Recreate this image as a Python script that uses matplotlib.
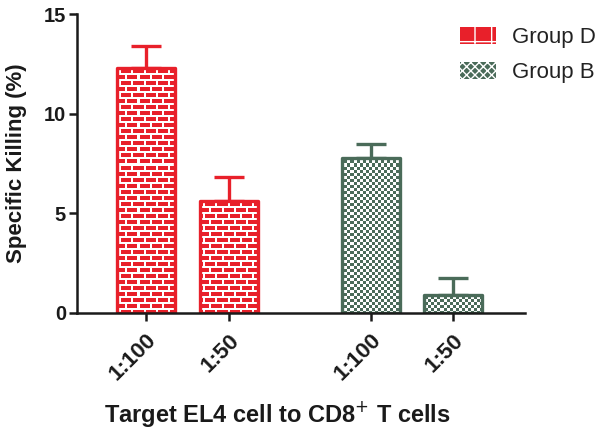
import numpy as np
import matplotlib.pyplot as plt
from matplotlib.colors import to_rgb
from matplotlib.patches import Patch

plt.rcParams['font.family'] = ['Liberation Sans', 'DejaVu Sans']

# data
groups = ['Group D', 'Group B']
ratios = ['1:100', '1:50']
means = [[12.3, 5.6], [7.8, 0.9]]
errs = [[1.1, 1.2], [0.7, 0.85]]
colors = ['#e8202a', '#4a6b59']
positions = [[0, 1], [2.71, 3.7]]

W, H = 609, 437
fig = plt.figure(figsize=(W / 100, H / 100), dpi=100)
ax = fig.add_axes([77 / W, 1 - 313 / H, 448 / W, 299 / H])
xlim = (-0.83, 4.57)
ylim = (0, 15)

# textures at axes pixel size
aw, ah = 448, 299
yy, xx = np.mgrid[0:ah, 0:aw]


def brick(col):
    row = yy // 6
    mortar_h = (yy % 6) < 2
    shift = np.where(row % 2 == 0, 0, 6)
    mortar_v = ((xx + shift) % 12) < 2
    mask = mortar_h | mortar_v
    img = np.ones((ah, aw, 3))
    img[~mask] = to_rgb(col)
    return img


def checker(col):
    mask = ((xx // 3) + (yy // 3)) % 2 == 0
    img = np.ones((ah, aw, 3))
    img[mask] = to_rgb(col)
    return img


textures = [brick(colors[0]), checker(colors[1])]

for g in range(2):
    bars = ax.bar(positions[g], means[g], width=0.7, facecolor='none',
                  edgecolor=colors[g], linewidth=2.4, zorder=2)
    for b in bars:
        b.set_joinstyle('round')
        im = ax.imshow(textures[g], extent=(*xlim, *ylim), aspect='auto',
                       interpolation='nearest', zorder=1.5)
        im.set_clip_path(b)
    ax.errorbar(positions[g], means[g], yerr=[[0, 0], errs[g]], fmt='none',
                ecolor=colors[g], elinewidth=2.4, capsize=11, capthick=2.4,
                zorder=1)

ax.set_xlim(xlim)
ax.set_ylim(ylim)

for s in ['top', 'right']:
    ax.spines[s].set_visible(False)
for s in ['left', 'bottom']:
    ax.spines[s].set_linewidth(1.8)
    ax.spines[s].set_color('#1a1a1a')

ax.set_yticks([0, 5, 10, 15])
ax.set_xticks([p for grp in positions for p in grp])
ax.set_xticklabels(ratios * 2, rotation=45, ha='right', rotation_mode='anchor')
ax.tick_params(axis='both', direction='out', length=6, width=1.8,
               labelsize=14.5, color='#1a1a1a', labelcolor='#1a1a1a')
ax.tick_params(axis='x', labelsize=16, pad=6)
ax.tick_params(axis='y', pad=2)
for lab in ax.get_xticklabels() + ax.get_yticklabels():
    lab.set_fontweight('bold')

ax.set_ylabel('Specific Killing (%)', fontsize=16, fontweight='bold',
              color='#1a1a1a')
ax.yaxis.set_label_coords(-0.112, 0.5)
ax.set_xlabel('Target EL4 cell to CD8$^{+}$ T cells', fontsize=17,
              fontweight='bold', color='#1a1a1a')
ax.xaxis.set_label_coords(0.447, -0.288)

handles = [Patch(facecolor=colors[0], edgecolor='white', hatch='+', linewidth=0),
           Patch(facecolor=colors[1], edgecolor='white', hatch='xxxx', linewidth=0)]
fig.legend(handles, groups, loc='upper left',
           bbox_to_anchor=(460 / W, 1 - 27 / H), frameon=False, fontsize=16,
           handlelength=1.6, handleheight=0.8, labelspacing=0.6,
           handletextpad=0.75, borderpad=0, borderaxespad=0,
           labelcolor='#222222')

fig.savefig('out.png', dpi=100)
